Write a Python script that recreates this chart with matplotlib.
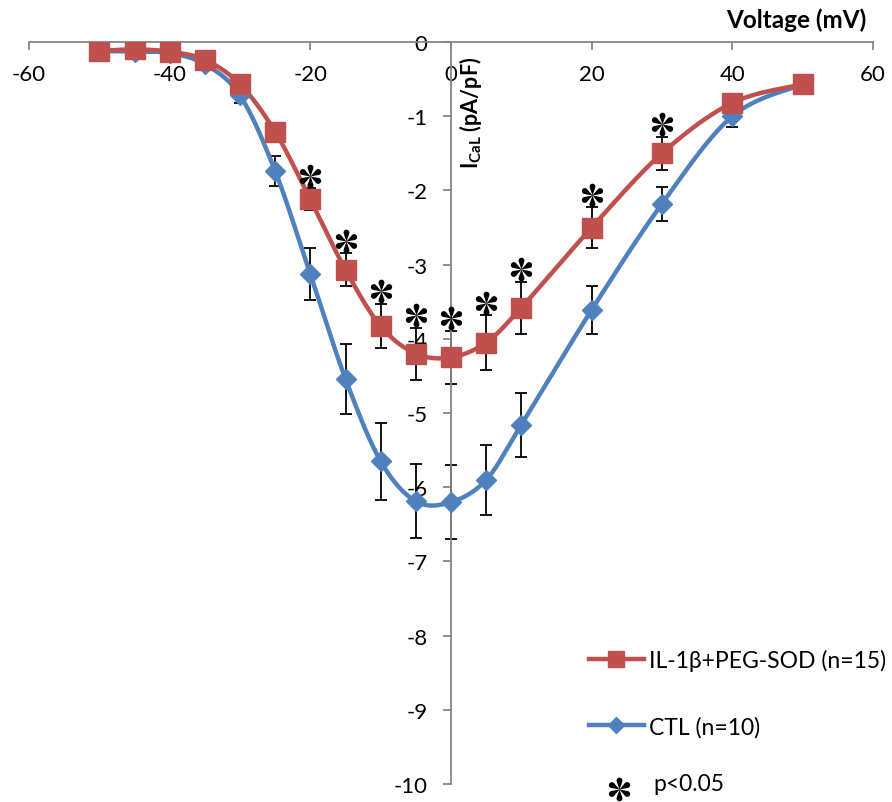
import numpy as np
import matplotlib
matplotlib.use('Agg')
import matplotlib.pyplot as plt
import matplotlib.transforms as mtransforms
from matplotlib.path import Path
from matplotlib.lines import Line2D

plt.rcParams['font.family'] = ['Lato', 'DejaVu Sans']
plt.rcParams['mathtext.fontset'] = 'custom'
plt.rcParams['mathtext.rm'] = 'Lato'
plt.rcParams['mathtext.bf'] = 'Lato:bold'
plt.rcParams['axes.unicode_minus'] = False

# data (mV, pA/pF)
voltage = [-50, -45, -40, -35, -30, -25, -20, -15, -10, -5, 0, 5, 10, 20, 30, 40, 50]
il1b_mean = [-0.12, -0.10, -0.13, -0.24, -0.57, -1.21, -2.12, -3.07, -3.83, -4.20,
             -4.25, -4.05, -3.58, -2.50, -1.50, -0.82, -0.57]
il1b_sem = [0.03, 0.03, 0.03, 0.05, 0.08, 0.10, 0.15, 0.22, 0.30, 0.35,
            0.36, 0.37, 0.35, 0.27, 0.22, 0.10, 0.05]
ctl_mean = [-0.12, -0.13, -0.15, -0.30, -0.72, -1.74, -3.13, -4.54, -5.65, -6.19,
            -6.20, -5.90, -5.16, -3.61, -2.18, -1.00, -0.57]
ctl_sem = [0.03, 0.03, 0.03, 0.05, 0.10, 0.20, 0.35, 0.47, 0.52, 0.50,
           0.50, 0.47, 0.43, 0.32, 0.23, 0.15, 0.05]
signif_v = [-20, -15, -10, -5, 0, 5, 10, 20, 30]

RED = '#C0504D'
BLUE = '#4F81BD'
GREY = '#868686'


def smooth(x, y, n=40):
    # excel-style smoothed line (bezier through the points)
    x = np.asarray(x, float)
    y = np.asarray(y, float)
    px = np.concatenate([[x[0]], x, [x[-1]]])
    py = np.concatenate([[y[0]], y, [y[-1]]])
    t = np.linspace(0, 1, n)[:, None]
    out = []
    for i in range(len(x) - 1):
        p0 = np.array([px[i], py[i]])
        p1 = np.array([px[i + 1], py[i + 1]])
        p2 = np.array([px[i + 2], py[i + 2]])
        p3 = np.array([px[i + 3], py[i + 3]])
        c1 = p1 + (p2 - p0) / 6
        c2 = p2 - (p3 - p1) / 6
        seg = ((1 - t) ** 3) * p1 + 3 * ((1 - t) ** 2) * t * c1 + 3 * (1 - t) * t ** 2 * c2 + t ** 3 * p2
        out.append(seg)
    out = np.vstack(out)
    return out[:, 0], out[:, 1]


def teardrop_star(rr=0.25, c=0.75):
    # six teardrop petals, thin at the centre, round at the tips
    alpha = np.arcsin(rr / c)
    L = np.sqrt(c ** 2 - rr ** 2)
    tx, ty = L * np.sin(alpha), L * np.cos(alpha)
    phi = np.arctan2(ty - c, tx)
    arc = np.linspace(phi, np.pi - phi, 24)
    petal = np.vstack([[0, 0], np.column_stack([rr * np.cos(arc), c + rr * np.sin(arc)]), [0, 0]])
    verts, codes = [], []
    for ang in np.deg2rad([0, 60, 120, 180, 240, 300]):
        rot = np.array([[np.cos(ang), -np.sin(ang)], [np.sin(ang), np.cos(ang)]])
        p = petal @ rot.T
        verts.extend(p)
        codes.extend([Path.MOVETO] + [Path.LINETO] * (len(p) - 2) + [Path.CLOSEPOLY])
    return Path(np.array(verts), codes)


star = teardrop_star()

fig = plt.figure(figsize=(8.92, 8.03), dpi=100)
ax = fig.add_axes([29 / 892, 1 - 785 / 803, 844 / 892, 742 / 803])

for mean, sem, col, mk, ms in [(ctl_mean, ctl_sem, BLUE, 'D', 10.5),
                               (il1b_mean, il1b_sem, RED, 's', 14.5)]:
    ax.errorbar(voltage, mean, yerr=sem, fmt='none', ecolor='black', elinewidth=1.3,
                capsize=4.5, capthick=1.3, zorder=2)
    sx, sy = smooth(voltage, mean)
    ax.plot(sx, sy, color=col, lw=3.2, zorder=3, solid_capstyle='round')
    ax.plot(voltage, mean, ls='none', marker=mk, ms=ms, color=col, mec=col, zorder=4)

# significance asterisks above the IL-1b error bars
sig_y = [il1b_mean[voltage.index(s)] + il1b_sem[voltage.index(s)] for s in signif_v]
off = mtransforms.offset_copy(ax.transData, fig=fig, y=9, units='points')
ax.plot(signif_v, sig_y, ls='none', marker=star, ms=17, mew=0, color='black', transform=off,
        zorder=5, clip_on=False)

ax.set_xlim(-60, 60)
ax.set_ylim(-10, 0)
ax.spines['top'].set_visible(False)
ax.spines['right'].set_visible(False)
ax.spines['bottom'].set_position(('data', 0))
ax.spines['left'].set_position(('data', 0))
for s in ['bottom', 'left']:
    ax.spines[s].set_color(GREY)
    ax.spines[s].set_linewidth(1.3)
ax.set_xticks(np.arange(-60, 61, 20))
ax.set_yticks(np.arange(-10, 1, 1))
ax.tick_params(axis='x', direction='out', length=6, width=1.3, color=GREY, pad=10, labelsize=16)
ax.tick_params(axis='y', direction='out', length=6, width=1.3, color=GREY, pad=11, labelsize=16)
ax.patch.set_visible(False)

fig.text(866 / 892, 1 - 20 / 803, 'Voltage (mV)', ha='right', va='center', fontsize=17.5,
         fontweight='bold')
fig.text(471 / 892, 1 - 113 / 803, r'$\mathbf{I}_{\mathbf{CaL}}$ (pA/pF)', rotation=90,
         ha='center', va='center', fontsize=15.5, fontweight='bold')

handles = [Line2D([], [], color=RED, lw=3.2, marker='s', ms=12),
           Line2D([], [], color=BLUE, lw=3.2, marker='D', ms=8)]
fig.legend(handles, ['IL-1\u03b2+PEG-SOD (n=15)', 'CTL (n=10)'], loc='center left',
           bbox_to_anchor=(568 / 892, 1 - 694 / 803), frameon=False, fontsize=16.5,
           handlelength=2.4, handletextpad=0.22, labelspacing=1.95)
fig.add_artist(Line2D([619 / 892], [1 - 790 / 803], marker=star, ms=17, mew=0, color='black',
                      ls='none', transform=fig.transFigure))
fig.text(653 / 892, 1 - 785 / 803, 'p<0.05', ha='left', va='center', fontsize=16.5)

fig.savefig('out.png', dpi=100)
